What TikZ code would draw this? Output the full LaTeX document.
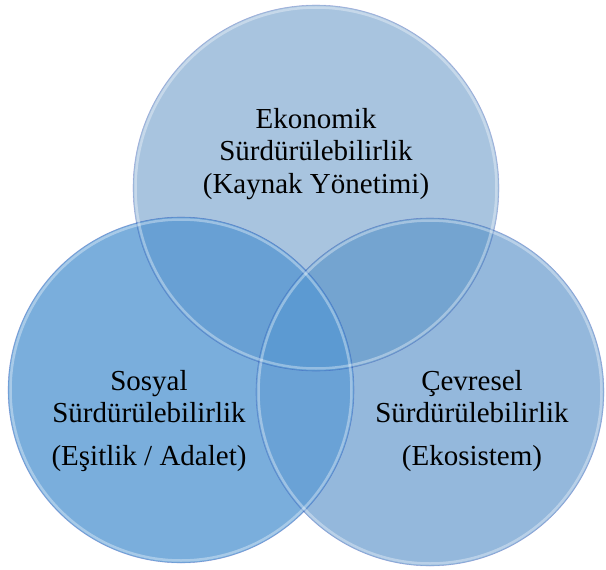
\documentclass[tikz,border=0pt]{standalone}
\usepackage{fontspec}
\setmainfont{Liberation Serif}
\definecolor{ekoblue}{HTML}{A8C4DF}
\definecolor{sosblue}{HTML}{7AAEDC}
\definecolor{cevblue}{HTML}{94B8DC}
\definecolor{eksoblue}{HTML}{68A0D4}
\definecolor{ekcevblue}{HTML}{74A4D0}
\definecolor{socevblue}{HTML}{6AA2D6}
\definecolor{allblue}{HTML}{5C9AD2}
\begin{document}
\begin{tikzpicture}[x=1pt,y=-1pt]
  \tikzset{bubble/.style={circle, inner sep=0pt},
           rim/.style={draw=black!40!blue, draw opacity=.2, line width=.6pt},
           glow/.style={draw=white, draw opacity=.35, line width=2.5pt},
           label text/.style={align=center, font=\fontsize{29}{32.5}\selectfont}}
  \useasboundingbox (0,0) rectangle (606,570);
  	\node[bubble, fill=ekoblue, minimum size=366pt] at (316,188) (eko) {};
    \node[bubble, fill=cevblue, minimum size=348pt] at (430,392) (cev) {};
    \node[bubble, fill=sosblue, minimum size=346pt] at (181,390) (sos) {};

    % overlaps
    \begin{scope}
      \clip (eko.center) circle (183);
      \fill[eksoblue] (sos.center) circle (173);
      \fill[ekcevblue] (cev.center) circle (174);
    \end{scope}
    \begin{scope}
      \clip (sos.center) circle (173);
      \fill[socevblue] (cev.center) circle (174);
      \clip (cev.center) circle (174);
      \fill[allblue] (eko.center) circle (183);
    \end{scope}

    \path[rim] (eko.center) circle (183);
    \path[rim] (cev.center) circle (174);
    \path[rim] (sos.center) circle (173);
    \path[glow] (eko.center) circle (180.5);
    \path[glow] (cev.center) circle (171.5);
    \path[glow] (sos.center) circle (170.5);

    \node[label text] at (316,154) (ekotext) {Ekonomik\\Sürdürülebilirlik\\(Kaynak Yönetimi)};
    \node[label text] at (149,421) (sostext) {Sosyal\\Sürdürülebilirlik\\[10pt](Eşitlik / Adalet)};
    \node[label text] at (472,421) (cevtext) {Çevresel\\Sürdürülebilirlik\\[10pt](Ekosistem)};

  \end{tikzpicture}
\end{document}
